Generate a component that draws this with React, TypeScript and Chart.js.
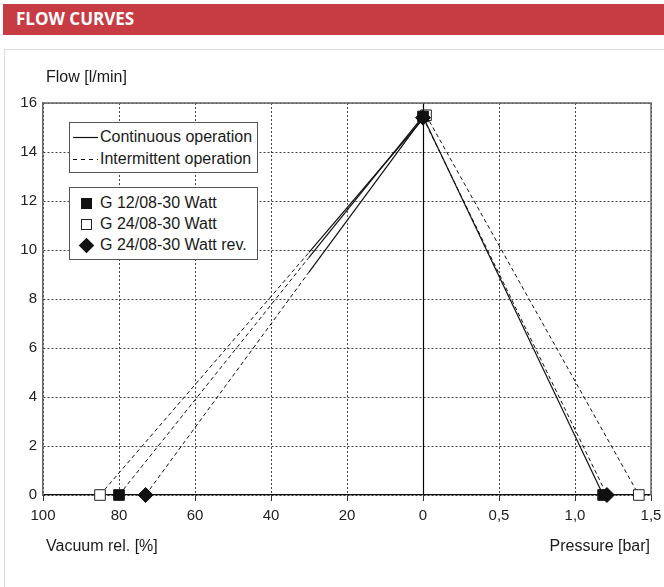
import React, { useEffect, useRef } from "react";
import { Chart, registerables } from "chart.js";

Chart.register(...registerables);

// ---- data ----
const seriesNames = ["G 12/08-30 Watt", "G 24/08-30 Watt", "G 24/08-30 Watt rev."];
// vacuum side: rel. vacuum [%] at zero flow
const vacuumEnd = [80, 85, 73];
// vacuum where intermittent (dashed) turns into continuous (solid)
const vacuumSwitch = [30, 30, 30];
const flowAtSwitch = [9.7, 9.9, 9.1];
// free flow at 0 [l/min]
const peakFlow = [15.45, 15.5, 15.4];
const peakPressure = [0, 0.02, 0];
// pressure side: pressure [bar] at zero flow
const pressureEnd = [1.185, 1.42, 1.21];
const pressureSolid = [true, false, false];

const xTickLabels = ["100", "80", "60", "40", "20", "0", "0,5", "1,0", "1,5"];
const yMin = 0;
const yMax = 16;
const yStep = 2;

// axis mapping: vacuum 20 % per unit to the left, pressure 0.5 bar per unit to the right
const vx = (v: number) => -v / 20;
const px = (p: number) => p / 0.5;

const FONT = "'Liberation Sans', Arial, Helvetica, sans-serif";

const framePlugin = {
  id: "frame",
  beforeDatasetsDraw(chart: any) {
    const { ctx, chartArea: a, scales } = chart;
    const x0 = Math.round(scales.x.getPixelForValue(0)) + 0.5;
    ctx.save();
    ctx.strokeStyle = "#000";
    ctx.lineWidth = 1.2;
    ctx.beginPath();
    ctx.moveTo(x0, a.top);
    ctx.lineTo(x0, a.bottom);
    ctx.stroke();
    ctx.strokeStyle = "#666";
    ctx.lineWidth = 1.5;
    ctx.beginPath();
    ctx.moveTo(a.left, a.top);
    ctx.lineTo(a.right, a.top);
    ctx.lineTo(a.right, a.bottom);
    ctx.stroke();
    ctx.restore();
  },
};

const markerStyles = [
  { pointStyle: "rect", bg: "#111", border: "#111" },
  { pointStyle: "rect", bg: "#fff", border: "#222" },
  { pointStyle: "rectRot", bg: "#111", border: "#111" },
];

export default function App() {
  const ref = useRef<HTMLCanvasElement>(null);

  useEffect(() => {
    if (!ref.current) return;
    Chart.defaults.font.family = FONT;
    const datasets: any[] = [];

    // markers (drawn on top)
    [0, 2, 1].forEach((i) => {
      const m = markerStyles[i];
      datasets.push({
        label: seriesNames[i] + " markers",
        data: [
          { x: vx(vacuumEnd[i]), y: 0 },
          { x: px(peakPressure[i]), y: peakFlow[i] },
          { x: px(pressureEnd[i]), y: 0 },
        ],
        showLine: false,
        pointStyle: m.pointStyle,
        pointRadius: 7.5,
        pointBackgroundColor: m.bg,
        pointBorderColor: m.border,
        pointBorderWidth: 1,
        clip: false,
      });
    });

    seriesNames.forEach((name, i) => {
      datasets.push({
        label: name + " vac dashed",
        data: [
          { x: vx(vacuumEnd[i]), y: 0 },
          { x: vx(vacuumSwitch[i]), y: flowAtSwitch[i] },
        ],
        showLine: true,
        borderColor: "#111",
        borderWidth: 1,
        borderDash: [4, 3],
        pointRadius: 0,
        clip: false,
      });
      datasets.push({
        label: name + " vac solid",
        data: [
          { x: vx(vacuumSwitch[i]), y: flowAtSwitch[i] },
          { x: px(peakPressure[i]), y: peakFlow[i] },
        ],
        showLine: true,
        borderColor: "#111",
        borderWidth: 1.2,
        pointRadius: 0,
        clip: false,
      });
      datasets.push({
        label: name + " pressure",
        data: [
          { x: px(peakPressure[i]), y: peakFlow[i] },
          { x: px(pressureEnd[i]), y: 0 },
        ],
        showLine: true,
        borderColor: "#111",
        borderWidth: pressureSolid[i] ? 1.2 : 1,
        borderDash: pressureSolid[i] ? [] : [4, 3],
        pointRadius: 0,
        clip: false,
      });
    });

    const chart = new Chart(ref.current, {
      type: "scatter",
      data: { datasets },
      plugins: [framePlugin],
      options: {
        animation: false,
        responsive: false,
        devicePixelRatio: 1,
        events: [],
        layout: { padding: { left: 0, top: 103, right: 13, bottom: 52 } },
        plugins: { legend: { display: false }, tooltip: { enabled: false } },
        scales: {
          x: {
            type: "linear",
            min: -5,
            max: 3,
            afterFit: (s: any) => {
              s.height = 40;
              s.paddingRight = 0;
              s.paddingLeft = 0;
            },
            afterBuildTicks: (s: any) => {
              s.ticks = xTickLabels.map((_, k) => ({ value: k - 5 }));
            },
            ticks: {
              stepSize: 1,
              autoSkip: false,
              maxRotation: 0,
              padding: 6,
              color: "#222",
              font: { size: 15, family: FONT },
              callback: (v: any) => xTickLabels[Math.round(Number(v)) + 5] ?? "",
            },
            grid: {
              color: "#444",
              lineWidth: 1,
              drawTicks: true,
              tickLength: 6,
              tickColor: "#333",
              tickBorderDash: [],
            },
            border: { display: true, color: "#111", width: 1.2, dash: [2, 2] },
          },
          y: {
            type: "linear",
            min: yMin,
            max: yMax,
            afterFit: (s: any) => {
              s.width = 43;
            },
            ticks: {
              stepSize: yStep,
              padding: 6,
              color: "#222",
              font: { size: 15, family: FONT },
            },
            grid: {
              color: "#444",
              lineWidth: 1,
              drawTicks: false,
            },
            border: { display: true, color: "#666", width: 1.5, dash: [2, 2] },
          },
        },
      } as any,
    });
    return () => chart.destroy();
  }, []);

  const text: React.CSSProperties = {
    position: "absolute",
    fontFamily: FONT,
    fontSize: 16,
    color: "#1a1a1a",
    whiteSpace: "nowrap",
    lineHeight: "18px",
  };
  const legendBox: React.CSSProperties = {
    position: "absolute",
    left: 69,
    width: 189,
    border: "1.5px solid #555",
    background: "#fff",
    boxSizing: "border-box",
  };
  const row = (top: number, sample: React.ReactNode, label: string) => (
    <div style={{ position: "absolute", left: 0, top, height: 18, width: 186 }}>
      <div style={{ position: "absolute", left: 0, top: 0, width: 28, height: 18 }}>{sample}</div>
      <span style={{ ...text, left: 30, top: 0 }}>{label}</span>
    </div>
  );

  return (
    <div
      style={{
        position: "absolute",
        left: 0,
        top: 0,
        width: 664,
        height: 587,
        overflow: "hidden",
        background: "#fff",
      }}
    >
      <div
        style={{
          position: "absolute",
          left: 3,
          top: 4,
          width: 661,
          height: 31,
          background: "#C73B43",
        }}
      >
        <span
          style={{
            position: "absolute",
            left: 13,
            top: 4,
            fontFamily: "'Open Sans', sans-serif",
            fontWeight: 700,
            fontSize: 17,
            lineHeight: "22px",
            color: "#fff",
            whiteSpace: "nowrap",
          }}
        >
          FLOW CURVES
        </span>
      </div>
      <div
        style={{
          position: "absolute",
          left: 4,
          top: 49,
          width: 680,
          height: 600,
          border: "1px solid #dcdcdc",
          boxSizing: "border-box",
        }}
      />
      <canvas
        ref={ref}
        width={664}
        height={587}
        style={{ position: "absolute", left: 0, top: 0, width: 664, height: 587 }}
      />
      <span style={{ ...text, left: 46, top: 68 }}>Flow [l/min]</span>
      <span style={{ ...text, left: 46, top: 537 }}>Vacuum rel. [%]</span>
      <span style={{ ...text, right: 14, top: 537 }}>Pressure [bar]</span>

      <div style={{ ...legendBox, top: 122, height: 51 }}>
        {row(
          5,
          <svg width={28} height={18} style={{ position: "absolute", left: 0, top: 0 }}>
            <line x1={3} y1={9.5} x2={28} y2={9.5} stroke="#111" strokeWidth={1.2} />
          </svg>,
          "Continuous operation"
        )}
        {row(
          27,
          <svg width={28} height={18} style={{ position: "absolute", left: 0, top: 0 }}>
            <line x1={3} y1={9.5} x2={28} y2={9.5} stroke="#111" strokeWidth={1.2} strokeDasharray="4 4" />
          </svg>,
          "Intermittent operation"
        )}
      </div>

      <div style={{ ...legendBox, top: 187, height: 73 }}>
        {row(
          6,
          <div style={{ position: "absolute", left: 11, top: 4, width: 11, height: 11, background: "#111" }} />,
          seriesNames[0]
        )}
        {row(
          27,
          <div
            style={{
              position: "absolute",
              left: 11,
              top: 4,
              width: 11,
              height: 11,
              background: "#fff",
              border: "1px solid #222",
              boxSizing: "border-box",
            }}
          />,
          seriesNames[1]
        )}
        {row(
          48,
          <div
            style={{
              position: "absolute",
              left: 11,
              top: 4,
              width: 11,
              height: 11,
              background: "#111",
              transform: "rotate(45deg)",
            }}
          />,
          seriesNames[2]
        )}
      </div>
    </div>
  );
}
